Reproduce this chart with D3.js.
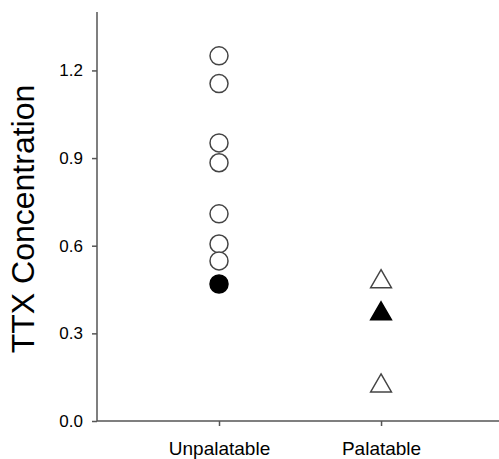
<!DOCTYPE html>
<html>
<head>
<meta charset="utf-8">
<script src="https://cdn.jsdelivr.net/npm/d3@7"></script>
<style>
  body { margin: 0; background: #fff; }
  svg { display: block; font-family: "Liberation Sans", Arial, sans-serif; }
</style>
</head>
<body>
<svg id="chart" width="499" height="459"></svg>
<script>
// values
var categories = ["Unpalatable", "Palatable"];
var unpalatableOpen = [1.25, 1.155, 0.952, 0.884, 0.709, 0.606, 0.548];
var unpalatableFilled = [0.469];
var palatableOpen = [0.477, 0.12];
var palatableFilled = [0.367];
var yTicks = [0.0, 0.3, 0.6, 0.9, 1.2];
var yLabel = "TTX Concentration";

var svg = d3.select("#chart");
var axisColor = "#555";

var x = d3.scaleLinear().domain([-0.753, 1.728]).range([97, 499]);
var y = d3.scaleLinear().domain([0, 1.4]).range([421, 12]);

// y axis
var yAxis = svg.append("g")
  .attr("transform", "translate(" + x.range()[0] + ",0)")
  .call(d3.axisLeft(y).tickValues(yTicks).tickFormat(d3.format(".1f")).tickSize(5).tickPadding(9));
yAxis.select(".domain").attr("stroke", axisColor).attr("stroke-width", 1.5).attr("d", "M0," + y(1.4) + "V" + y(0));
yAxis.selectAll(".tick line").attr("stroke", axisColor).attr("stroke-width", 1.5);
yAxis.selectAll(".tick text").style("font-size", "17px").attr("fill", "#000");

// x axis
var xAxis = svg.append("g")
  .attr("transform", "translate(0," + y(0) + ")")
  .call(d3.axisBottom(x).tickValues([0, 1]).tickFormat(function (i) { return categories[i]; }).tickSize(5).tickPadding(16));
xAxis.select(".domain").attr("stroke", axisColor).attr("stroke-width", 1.5).attr("d", "M" + x.range()[0] + ",0H" + x.range()[1]);
xAxis.selectAll(".tick line").attr("stroke", axisColor).attr("stroke-width", 1.5);
xAxis.selectAll(".tick text").style("font-size", "19px").attr("fill", "#000");

// y label
svg.append("text")
  .attr("transform", "translate(34,219) rotate(-90)")
  .attr("text-anchor", "middle")
  .style("font-size", "32px")
  .text(yLabel);

// circles (Unpalatable)
function circles(values, filled) {
  svg.append("g").selectAll("circle")
    .data(values)
    .enter()
    .append("circle")
    .attr("cx", x(0))
    .attr("cy", function (d) { return y(d); })
    .attr("r", 9)
    .attr("fill", filled ? "#000" : "#fff")
    .attr("stroke", filled ? "#000" : "#444")
    .attr("stroke-width", 1.5);
}
circles(unpalatableOpen, false);
circles(unpalatableFilled, true);

// triangles (Palatable)
var tri = d3.symbol().type(d3.symbolTriangle).size(187);
function triangles(values, filled) {
  svg.append("g").selectAll("path")
    .data(values)
    .enter()
    .append("path")
    .attr("d", tri)
    .attr("transform", function (d) { return "translate(" + x(1) + "," + y(d) + ")"; })
    .attr("fill", filled ? "#000" : "#fff")
    .attr("stroke", filled ? "#000" : "#444")
    .attr("stroke-width", 1.5);
}
triangles(palatableOpen, false);
triangles(palatableFilled, true);
</script>
</body>
</html>
